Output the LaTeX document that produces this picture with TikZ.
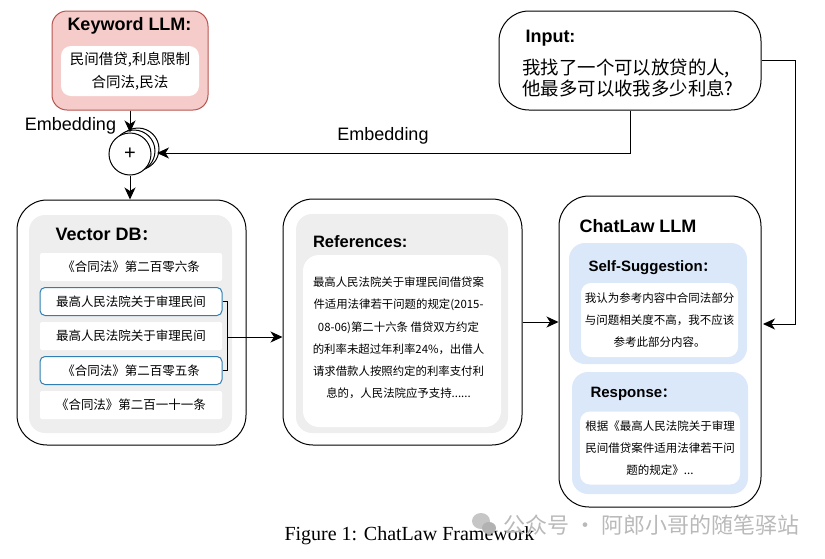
\documentclass[tikz,border=0pt]{standalone}
\usepackage{fontspec}
\setmainfont{Liberation Sans}
\newfontfamily\cjk{Noto Sans CJK SC}
\newfontfamily\capfont{Liberation Serif}
\usetikzlibrary{arrows.meta, positioning}
\definecolor{pinkfill}{HTML}{F6CCCB}
\definecolor{pinkline}{HTML}{B85450}
\definecolor{bluefill}{HTML}{DAE8FA}
\definecolor{blueline}{HTML}{2F7FB5}
\definecolor{grayfill}{HTML}{EEEEEE}
\tikzset{
    >={Stealth[length=12pt, width=11pt, inset=3.5pt]}, % arrow heads of all the connectors
    every path/.style={line width=1pt},
    outer/.style={draw, rounded corners=30pt, inner sep=0pt}, % the large white frames
    panel/.style={rounded corners=16pt, inner sep=0pt}, % tinted panels inside the frames
    sheet/.style={fill=white, rounded corners=10pt, inner sep=0pt, align=center, font=\cjk}, % white text areas
    title/.style={anchor=west, inner sep=0pt, font=\bfseries\fontsize{18}{21}\selectfont},
    subtitle/.style={anchor=west, inner sep=0pt, font=\bfseries\fontsize{15}{18}\selectfont},
    row/.style={fill=white, minimum width=182pt, minimum height=28pt, inner sep=0pt, rounded corners=2pt, font=\cjk\fontsize{12.5}{15}\selectfont},
    hit/.style={row, draw=blueline, rounded corners=5pt}, % the two rows that are retrieved
    orb/.style={circle, draw, fill=white, minimum size=42pt, inner sep=0pt},
    node distance=34.5pt, % centre to centre distance of the rows
}
\begin{document}
\begin{tikzpicture}[x=1pt, y=-1pt]
    \useasboundingbox (0,0) rectangle (825,558);

    % keyword box
    \node[draw=pinkline, fill=pinkfill, rounded corners=15pt, minimum width=156pt, minimum height=99pt, inner sep=0pt] (keyword) at (130,60.5) {};
    \node[title] (keywordtitle) at (67,25.5) {Keyword LLM:};
    \node[sheet, minimum width=138pt, minimum height=50pt, font=\cjk\fontsize{14.5}{23.5}\selectfont] (keywordtext) at (130,71) {民间借贷,利息限制\\合同法,民法};

    % input box
    \node[outer, minimum width=262pt, minimum height=99pt] (input) at (630,60.5) {};
    \node[title] (inputtitle) at (525,38.5) {Input:};
    \node[anchor=west, inner sep=0pt, align=left, font=\cjk\fontsize{18.4}{21}\selectfont] (inputtext) at (522,78) {我找了一个可以放贷的人,\\他最多可以收我多少利息?};

    % stacked circles
    \node[orb] (orbc) at (138,149) {};
    \node[orb] (orbb) at (134,151) {};
    \node[orb] (plus) at (130,154) {\fontsize{20}{20}\selectfont +};

    % vector db
    \node[outer, minimum width=229pt, minimum height=245pt] (vector) at (131.5,322.5) {};
    \node[panel, fill=grayfill, minimum width=203pt, minimum height=218pt] (vectorpanel) at (130.5,324) {};
    \node[title] (vectortitle) at (55,234.5) {Vector DB{\cjk\fontsize{15}{15}\selectfont ：}};
    \node[row] (row1) at (131,267) {《合同法》第二百零六条};
    \node[hit, below of=row1] (row2) {最高人民法院关于审理民间};
    \node[row, below of=row2] (row3) {最高人民法院关于审理民间};
    \node[hit, below of=row3] (row4) {《合同法》第二百零五条};
    \node[row, below of=row4] (row5) {《合同法》第二百一十一条};

    % references
    \node[outer, minimum width=239pt, minimum height=246pt] (refs) at (402.5,322) {};
    \node[panel, fill=grayfill, minimum width=212pt, minimum height=219pt] (refspanel) at (402,323.5) {};
    \node[title, font=\bfseries\fontsize{16.5}{20}\selectfont] (refstitle) at (312.5,241.5) {References:};
    \node[sheet, rounded corners=16pt, minimum width=198pt, minimum height=172pt] (refssheet) at (402,341) {};
    \node[inner sep=0pt, align=center, font=\cjk\fontsize{11.4}{22.2}\selectfont] (refstext) at (398.5,338) {最高人民法院关于审理民间借贷案\\件适用法律若干问题的规定(2015-\\08-06)第二十六条 借贷双方约定\\的利率未超过年利率24\%，出借人\\请求借款人按照约定的利率支付利\\息的，人民法院应予支持......};

    % chatlaw llm
    \node[outer, minimum width=202pt, minimum height=311pt] (chat) at (660,351.5) {};
    \node[title] (chattitle) at (579,226) {ChatLaw LLM};
    \node[panel, fill=bluefill, minimum width=178pt, minimum height=121pt] (self) at (658,303.5) {};
    \node[subtitle] (selftitle) at (588,268) {Self-Suggestion{\cjk\fontsize{13}{13}\selectfont ：}};
    \node[sheet, minimum width=157pt, minimum height=74pt, font=\cjk\fontsize{11.5}{22}\selectfont] (selftext) at (659.5,320) {我认为参考内容中合同法部分\\与问题相关度不高，我不应该\\参考此部分内容。};
    \node[panel, fill=bluefill, minimum width=176pt, minimum height=122pt] (resp) at (660,433) {};
    \node[subtitle] (resptitle) at (590,394) {Response{\cjk\fontsize{13}{13}\selectfont ：}};
    \node[sheet, minimum width=160pt, minimum height=73pt, font=\cjk\fontsize{11.5}{22.3}\selectfont] (resptext) at (660,448) {根据《最高人民法院关于审理\\民间借贷案件适用法律若干问\\题的规定》...};

    % connectors
    \coordinate (merge) at (227,337);
    \coordinate (plushit) at (157,153);
    \coordinate (turn) at (795,324);
    \coordinate (chathit) at (763,324);
    \draw[->] (keyword.south) -- (plus.north);
    \draw[->] (input.south) |- (plushit);
    \draw[->] (plus.south) -- (plus.south |- vector.north);
    \draw (row2.east) -| (merge);
    \draw (row4.east) -| (merge);
    \draw[->] (merge) -- (refs.west |- merge);
    \draw[->] (refs.east) -- (refs.east -| chat.west);
    \draw[->] (input.east) -| (turn) -- (chathit);

    % labels
    \node[font=\fontsize{18}{21}\selectfont, inner sep=0pt] (embedleft) at (70.5,126) {Embedding};
    \node[font=\fontsize{18}{21}\selectfont, inner sep=0pt] (embedtop) at (383,136) {Embedding};
    \node[font=\capfont\fontsize{20}{23}\selectfont, inner sep=0pt] (caption) at (409.5,536) {Figure 1: ChatLaw Framework};

    % watermark
    \fill[gray!45] (481,521) ellipse (9 and 8);
    \fill[gray!60] (489,528) ellipse (7 and 6);
    \node[anchor=west, inner sep=0pt, text=gray!55, font=\cjk\fontsize{22}{24}\selectfont] (mark) at (503,525) {公众号 · 阿郎小哥的随笔驿站};
\end{tikzpicture}
\end{document}
